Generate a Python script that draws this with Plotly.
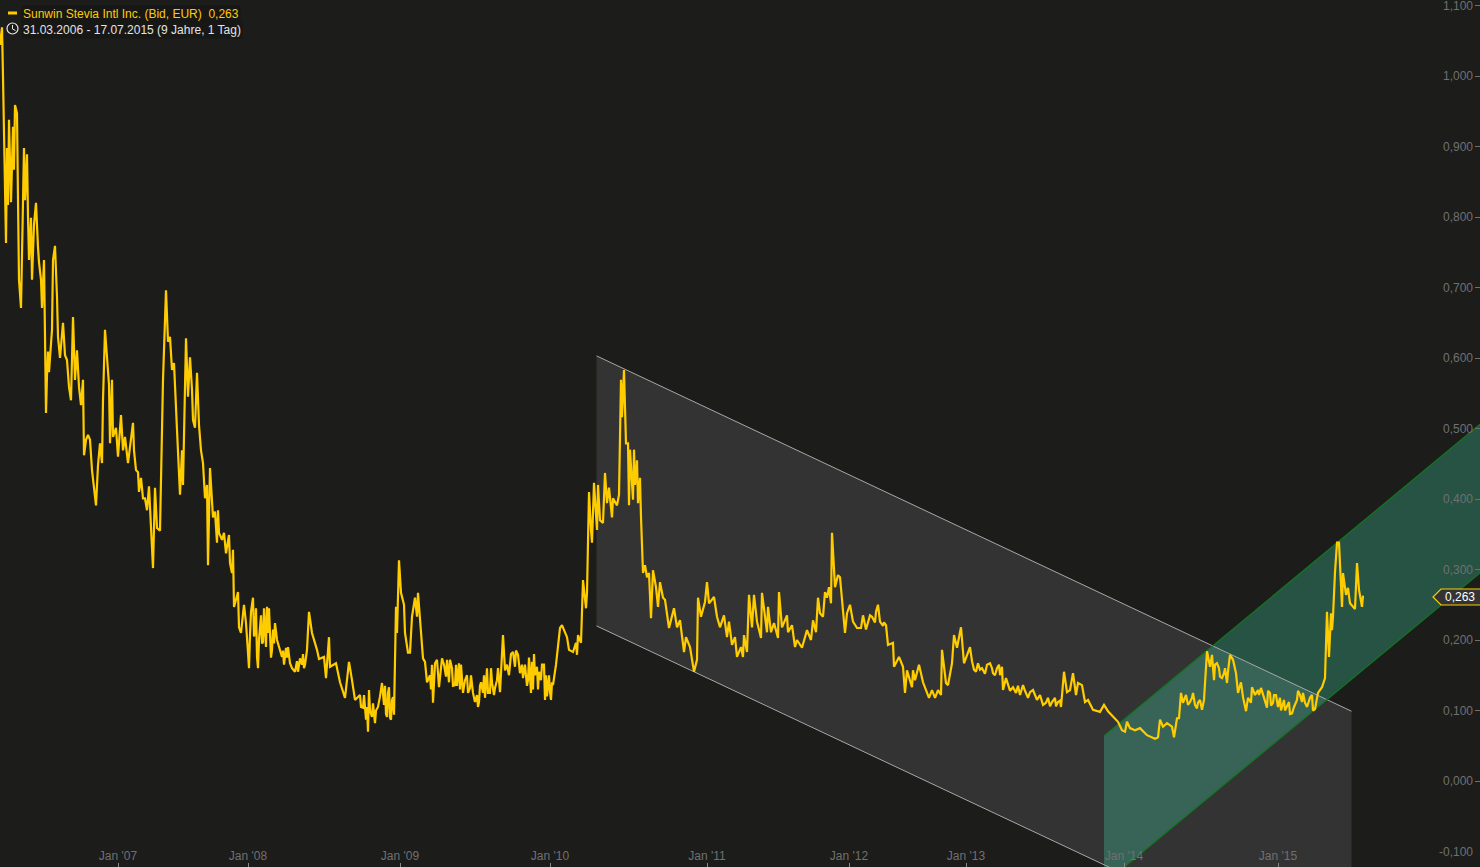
import plotly.graph_objects as go

sessions = [
0,2,3,5,6,7,8,9,11,13,14,15,17,18,19,21,22,24,25,27,
28,29,31,32,34,36,38,39,41,42,44,45,46,47,48,49,51,52,53,55,
57,58,60,63,65,67,69,71,73,75,77,79,81,83,84,86,88,90,92,94,
96,98,100,102,103,105,107,109,110,112,113,116,118,121,123,125,128,132,133,134,
136,138,139,141,143,145,147,149,151,153,155,157,160,162,163,166,168,170,172,174,
176,177,180,182,183,185,186,188,190,192,193,195,197,199,201,203,205,207,208,210,
212,213,215,217,218,219,222,224,226,229,230,232,233,234,236,238,239,241,244,246,
248,250,253,255,257,259,261,263,265,267,270,272,275,277,282,286,290,295,300,304,
307,309,312,317,319,324,326,329,330,336,340,345,347,349,352,355,360,363,366,368,
369,372,375,378,382,384,387,389,391,393,394,396,397,399,401,404,405,408,410,412,
415,417,418,420,423,425,427,430,433,435,437,439,442,444,447,449,452,455,459,462,
465,470,473,475,479,481,483,486,488,492,495,497,500,503,505,507,513,515,518,520,
523,525,528,531,532,535,537,541,544,545,548,550,553,556,560,562,567,569,573,576,
577,578,581,583,586,587,589,591,592,594,597,598,600,603,605,607,609,612,613,617,
619,621,622,624,626,628,629,631,633,635,638,641,642,643,645,647,649,651,653,656,
658,660,663,665,669,674,677,680,684,686,690,694,697,698,701,705,707,709,714,717,
720,724,727,729,732,735,737,741,743,744,747,749,752,754,757,761,762,767,768,771,
774,778,779,782,787,788,792,795,797,802,807,811,813,816,818,820,823,825,827,829,
831,832,835,838,840,842,845,847,850,853,857,861,863,868,872,878,880,886,888,893,
894,899,903,905,907,912,913,915,919,923,929,932,935,938,941,942,946,948,952,954,
957,961,964,970,976,978,982,990,993,997,1002,1003,1006,1013,1020,1023,1028,1033,1037,1040,
1046,1052,1058,1061,1064,1067,1070,1073,1076,1078,1082,1085,1088,1093,1100,1104,1108,1118,1122,1125,
1127,1130,1135,1140,1147,1155,1158,1160,1163,1167,1172,1174,1177,1179,1181,1183,1186,1188,1192,1195,
1198,1202,1204,1207,1210,1212,1214,1217,1219,1222,1224,1227,1230,1233,1236,1238,1241,1243,1246,1248,
1251,1252,1255,1258,1263,1267,1270,1273,1276,1278,1283,1287,1292,1297,1300,1305,1310,1315,1318,1322,
1325,1327,1329,1331,1332,1333,1335,1337,1339,1342,1343,1346,1348,1350,1355,1357,1359,1362,1363,
]

prices = [
1.044,1.069,.999,.860,.763,.898,.817,.938,.821,.928,.867,.959,.947,.824,.711,.671,.739,.898,.824,.889,
.800,.739,.799,.711,.789,.820,.757,.736,.711,.671,.739,.626,.522,.576,.609,.580,.618,.640,.739,.759,
.687,.630,.600,.650,.604,.597,.559,.540,.658,.569,.611,.559,.533,.569,.462,.484,.491,.484,.441,.413,
.391,.448,.479,.451,.540,.640,.597,.562,.479,.569,.488,.501,.460,.519,.469,.488,.451,.498,.508,.469,
.441,.438,.410,.430,.401,.401,.384,.418,.360,.302,.416,.359,.355,.498,.569,.696,.623,.630,.583,.593,
.540,.498,.406,.469,.420,.536,.628,.545,.601,.555,.512,.501,.579,.505,.469,.451,.401,.420,.306,.444,
.394,.374,.382,.338,.384,.352,.342,.352,.323,.349,.309,.295,.328,.247,.257,.268,.218,.210,.250,.224,
.182,.207,.260,.214,.176,.200,.235,.197,.221,.247,.193,.186,.224,.200,.176,.189,.167,.155,.174,.160,
.186,.240,.210,.186,.173,.176,.146,.204,.162,.167,.140,.118,.148,.169,.143,.115,.122,.104,.087,.070,
.129,.091,.082,.105,.139,.108,.091,.133,.087,.119,.094,.247,.210,.313,.267,.250,.210,.182,.182,.233,
.260,.233,.267,.228,.174,.169,.140,.150,.111,.167,.172,.133,.174,.165,.172,.140,.160,.136,.167,.139,
.143,.132,.125,.112,.112,.140,.125,.148,.125,.140,.132,.143,.126,.207,.157,.165,.183,.162,.179,.153,
.146,.165,.143,.125,.169,.150,.162,.143,.165,.115,.139,.126,.136,.165,.217,.221,.204,.186,.183,.196,
.179,.207,.196,.285,.245,.267,.410,.356,.338,.423,.356,.420,.370,.366,.437,.394,.416,.374,.401,.391,
.406,.569,.516,.583,.479,.479,.391,.444,.399,.420,.394,.374,.328,.295,.306,.289,.295,.231,.299,.275,
.247,.282,.260,.257,.217,.245,.218,.228,.183,.204,.190,.155,.172,.260,.233,.254,.282,.252,.261,.233,
.218,.235,.204,.226,.193,.204,.176,.190,.176,.207,.183,.264,.218,.264,.226,.203,.267,.211,.247,.211,
.224,.203,.268,.218,.235,.211,.221,.190,.200,.189,.214,.200,.228,.211,.260,.238,.233,.268,.260,.275,
.252,.352,.275,.292,.289,.252,.210,.238,.250,.226,.217,.217,.235,.224,.233,.250,.226,.221,.193,.196,
.162,.176,.162,.125,.157,.133,.157,.143,.165,.140,.118,.129,.118,.129,.122,.186,.139,.136,.167,.207,
.189,.218,.167,.190,.155,.167,.160,.167,.153,.160,.162,.129,.146,.133,.122,.136,.118,.129,.115,.122,
.111,.112,.112,.105,.155,.126,.129,.153,.122,.139,.136,.112,.115,.101,.098,.108,.099,.084,.072,.070,
.084,.075,.072,.075,.065,.060,.062,.087,.077,.082,.077,.062,.089,.089,.125,.111,.122,.108,.118,.108,
.111,.101,.115,.184,.162,.179,.143,.167,.160,.146,.153,.139,.179,.172,.153,.125,.140,.119,.099,.118,
.111,.133,.122,.129,.122,.104,.125,.111,.122,.105,.112,.105,.096,.115,.122,.111,.118,.102,.125,.133,
.146,.240,.176,.238,.214,.233,.296,.338,.338,.247,.295,.264,.274,.252,.244,.309,.271,.247,.263,
]

detail_sessions = [
249,251,254,256,258,262,264,266,268,269,271,273,274,283,284,287,288,292,297,298,302,303,305,
361,364,367,370,373,376,380,385,386,388,390,392,
431,432,446,450,453,456,457,460,461,463,467,468,471,
477,478,480,484,485,487,490,491,494,498,
509,511,516,522,527,529,533,534,538,539,542,546,547,549,551,552,
630,632,634,636,637,639,640,
866,870,875,876,883,884,
972,974,980,985,987,992,995,999,1000,
1010,1016,1018,1025,1030,1035,1043,1048,1050,1055,1056,1060,
1190,1193,1197,1200,1215,1220,1225,1228,
1259,1261,1265,1268,1271,1274,1280,1281,1284,1285,1289,1290,1294,1298,1302,1303,1307,1312,1313,
]
detail_prices = [
.160,.240,.205,.245,.160,.195,.245,.190,.210,.245,.175,.215,.195,.185,.165,.175,.190,.160,.170,.155,.165,.180,.165,
.105,.122,.105,.100,.110,.100,.120,.135,.095,.125,.090,.115,
.130,.165,.148,.172,.135,.165,.135,.130,.165,.125,.150,.125,.150,
.122,.105,.135,.150,.118,.160,.125,.160,.122,.160,
.150,.180,.185,.165,.135,.175,.130,.180,.130,.155,.165,.150,.120,.150,.115,.140,
.470,.420,.470,.430,.455,.415,.430,
.215,.235,.225,.240,.220,.225,
.170,.158,.158,.152,.165,.160,.150,.165,.150,
.128,.125,.135,.128,.126,.122,.108,.118,.106,.118,.106,.114,
.112,.125,.103,.115,.165,.148,.160,.155,
.122,.132,.112,.128,.107,.122,.118,.100,.115,.100,.112,.095,.105,.128,.112,.125,.105,.122,.100,
]

year_ticks = [118, 248, 400, 550, 707, 849, 966, 1124, 1278]
year_labels = ["Jan '07", "Jan '08", "Jan '09", "Jan '10", "Jan '11", "Jan '12", "Jan '13", "Jan '14", "Jan '15"]
value_ticks = [1.1, 1.0, .9, .8, .7, .6, .5, .4, .3, .2, .1, 0, -.1]
value_labels = ["1,100", "1,000", "0,900", "0,800", "0,700", "0,600", "0,500", "0,400", "0,300", "0,200", "0,100", "0,000", "-0,100"]

fall_x = [596.5, 1351.5]
fall_top = [.603, .099]
fall_bottom = [.220, -.284]
rise_x = [1104, 1480]
rise_top = [.0638, .506]
rise_bottom = [-.146, .295]

W, H = 1480, 867
BG = "#1c1c1b"
GOLD = "#ffcc00"
GRAY = "#707070"
GREEN = "#12761f"

assert len(sessions) == len(prices)
assert len(detail_sessions) == len(detail_prices)
merged = sorted(zip(sessions + detail_sessions, prices + detail_prices), key=lambda p: p[0])
line_x = [p[0] for p in merged]
line_y = [p[1] for p in merged]


def path(points, close=True):
    parts = []
    for i, (x, y) in enumerate(points):
        parts.append(("M" if i == 0 else "L") + f"{x / W:.5f},{1 - y / H:.5f}")
    return " ".join(parts) + (" Z" if close else "")


fig = go.Figure()
fig.add_trace(go.Scatter(x=fall_x + fall_x[::-1], y=fall_top + fall_bottom[::-1], mode="none",
                         fill="toself", fillcolor="#333333", hoverinfo="skip"))
fig.add_trace(go.Scatter(x=rise_x + rise_x[::-1], y=rise_top + rise_bottom[::-1], mode="none",
                         fill="toself", fillcolor="rgba(68,248,192,0.25)", hoverinfo="skip"))
for edge in (fall_top, fall_bottom):
    fig.add_trace(go.Scatter(x=fall_x, y=edge, mode="lines", line=dict(color="#a8a8a8", width=1), hoverinfo="skip"))
for edge in (rise_top, rise_bottom):
    fig.add_trace(go.Scatter(x=rise_x, y=edge, mode="lines", line=dict(color=GREEN, width=1.2), hoverinfo="skip"))
fig.add_trace(go.Scatter(x=line_x, y=line_y, mode="lines", line=dict(color=GOLD, width=2.2, shape="linear"),
                         name="Sunwin Stevia Intl Inc."))

shapes = [
    dict(type="path", xref="paper", yref="paper", layer="above", fillcolor="#333333",
         line=dict(color=GOLD, width=1.2),
         path=path([(1481, 589), (1441, 589), (1433, 597), (1441, 605), (1481, 605)], close=False)),
    dict(type="rect", xref="paper", yref="paper", layer="above", fillcolor=GOLD, line=dict(width=0),
         x0=8 / W, x1=17 / W, y0=1 - 14.5 / H, y1=1 - 11.5 / H),
    dict(type="path", xref="paper", yref="paper", layer="above", line=dict(color="#e8e8e8", width=1),
         path=path([(12.5, 25), (12.5, 29), (15.5, 30.5)], close=False)),
    dict(type="circle", xref="paper", yref="paper", layer="above", line=dict(color="#e8e8e8", width=1.2),
         x0=7 / W, x1=18 / W, y0=1 - 34 / H, y1=1 - 23 / H),
]

annotations = [
    dict(text="Sunwin Stevia Intl Inc. (Bid, EUR)&nbsp;&nbsp;0,263", x=21 / W, y=1 - 13.5 / H, xref="paper", yref="paper",
         xanchor="left", yanchor="middle", showarrow=False, align="left", font=dict(color=GOLD, size=12),
         bgcolor="#171716", borderpad=1),
    dict(text="31.03.2006 - 17.07.2015 (9 Jahre, 1 Tag)", x=21 / W, y=1 - 29.5 / H, xref="paper", yref="paper",
         xanchor="left", yanchor="middle", showarrow=False, align="left", font=dict(color="#e4e4e4", size=12),
         bgcolor="#171716", borderpad=1),
    dict(text="0,263", x=1459.5 / W, y=1 - 597 / H, xref="paper", yref="paper", xanchor="center", yanchor="middle",
         showarrow=False, font=dict(color="#ffffff", size=12)),
]
for val, lab in zip(value_ticks, value_labels):
    annotations.append(dict(text=lab, x=1475 / W, y=val, xref="paper", yref="y", xanchor="right", yanchor="middle",
                            showarrow=False, font=dict(color=GRAY, size=12)))

fig.update_layout(
    width=W, height=H, margin=dict(l=0, r=0, t=0, b=0), autosize=False,
    paper_bgcolor=BG, plot_bgcolor=BG, showlegend=False,
    font=dict(family="Liberation Sans, Arial, sans-serif", size=12, color=GRAY),
    shapes=shapes, annotations=annotations,
    xaxis=dict(range=[0, W], showgrid=False, zeroline=False, showline=False, tickmode="array",
               tickvals=year_ticks, ticktext=year_labels, ticks="inside", ticklen=4, tickwidth=1,
               tickcolor="#888888", ticklabelposition="inside", tickfont=dict(color=GRAY, size=12)),
    yaxis=dict(range=[-86 / 705, 781 / 705], side="right", showgrid=False, zeroline=False, showline=False,
               tickmode="array", tickvals=value_ticks, showticklabels=False, ticks="inside", ticklen=5,
               tickwidth=1, tickcolor=GRAY),
)

fig.write_html("out.html", config=dict(displayModeBar=False),
               post_script="document.body.style.margin='0';document.body.style.background='#1c1c1b';document.body.style.overflow='hidden';")
